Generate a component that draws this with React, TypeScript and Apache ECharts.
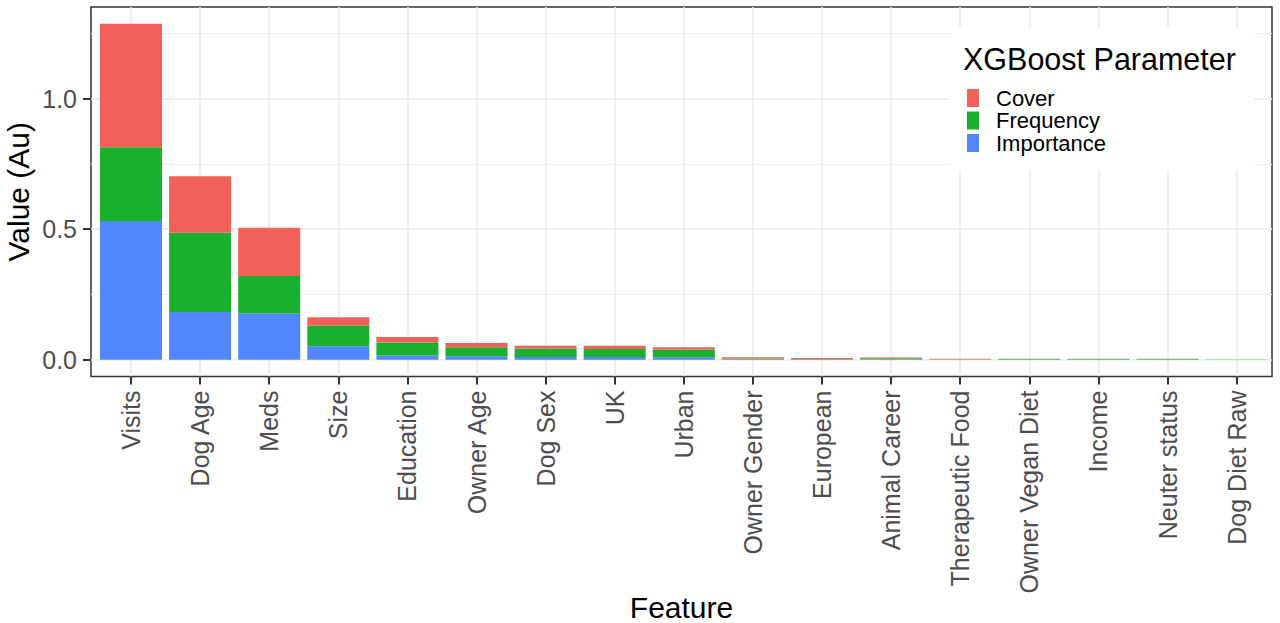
import React, { useEffect, useRef } from "react";
import * as echarts from "echarts";

// Features, in plot order
const features = [
  "Visits",
  "Dog Age",
  "Meds",
  "Size",
  "Education",
  "Owner Age",
  "Dog Sex",
  "UK",
  "Urban",
  "Owner Gender",
  "European",
  "Animal Career",
  "Therapeutic Food",
  "Owner Vegan Diet",
  "Income",
  "Neuter status",
  "Dog Diet Raw",
];

// stacked from bottom: Importance, Frequency, Cover
const importance = [0.531, 0.183, 0.177, 0.052, 0.016, 0.013, 0.01, 0.01, 0.009, 0.001, 0.001, 0.001, 0.0005, 0.0005, 0.0005, 0.0005, 0.0002];
const frequency = [0.283, 0.303, 0.144, 0.079, 0.05, 0.035, 0.033, 0.031, 0.03, 0.003, 0.002, 0.005, 0.001, 0.002, 0.002, 0.002, 0.0005];
const cover = [0.473, 0.217, 0.185, 0.032, 0.021, 0.016, 0.01, 0.012, 0.009, 0.005, 0.004, 0.002, 0.002, 0.001, 0.001, 0.001, 0.0003];

const majorTicks = [0, 0.5, 1.0];
const minorTicks = [0.25, 0.75, 1.25];

const FONT = "'Liberation Sans', Arial, Helvetica, sans-serif";
const COLORS = { cover: "#F2605A", frequency: "#1BAF2E", importance: "#5086FE" };

// ggplot-like expanded range (5%)
const Y_MAX_DATA = 1.287;
const Y_MIN = -0.05 * Y_MAX_DATA;
const Y_MAX = Y_MAX_DATA * 1.05;

// panel and bar band layout (px)
const PANEL = { left: 91, right: 8, top: 7, bottom: 246.5 };
const BAND = 69.1;
const FIRST_CENTER = 131;
const BAR_LEFT = FIRST_CENTER - BAND / 2;
const BAR_RIGHT = 1280 - (BAR_LEFT + BAND * features.length);
const X_MIN = -(FIRST_CENTER - PANEL.left) / BAND;
const X_MAX = X_MIN + (1280 - PANEL.left - PANEL.right) / BAND;

const App = () => {
  const chartRef = useRef<HTMLDivElement>(null);

  useEffect(() => {
    document.body.style.margin = "0";
    const chart = echarts.init(chartRef.current, null, { renderer: "svg" });
    const xIdx = features.map((_, i) => i);

    const option = {
      animation: false,
      backgroundColor: "#ffffff",
      textStyle: { fontFamily: FONT },
      grid: [
        {
          ...PANEL,
          outerBoundsMode: "none",
          containLabel: false,
          show: true,
          borderColor: "#333333",
          borderWidth: 1.5,
          backgroundColor: "transparent",
        },
        {
          left: BAR_LEFT,
          right: BAR_RIGHT,
          top: PANEL.top,
          bottom: PANEL.bottom,
          outerBoundsMode: "none",
          containLabel: false,
        },
      ],
      title: {
        text: "XGBoost Parameter",
        left: 963,
        top: 43,
        padding: 0,
        textStyle: { fontFamily: FONT, fontSize: 30.5, fontWeight: "normal", color: "#000000" },
      },
      legend: {
        data: ["Cover", "Frequency", "Importance"],
        orient: "vertical",
        left: 967,
        top: 87,
        padding: 0,
        itemWidth: 12,
        itemHeight: 18,
        itemGap: 0.5,
        icon: "rect",
        textStyle: { fontFamily: FONT, fontSize: 22, lineHeight: 22, color: "#000000", padding: [0, 0, 0, 12] },
      },
      graphic: [
        {
          type: "rect",
          z: 3,
          shape: { x: 950, y: 27, width: 304, height: 143 },
          style: { fill: "#ffffff" },
        },
      ],
      xAxis: [
        {
          gridIndex: 0,
          type: "value",
          min: X_MIN,
          max: X_MAX,
          name: "Feature",
          nameLocation: "middle",
          nameGap: 216,
          nameMoveOverlap: false,
          nameTextStyle: { fontFamily: FONT, fontSize: 30, color: "#000000" },
          axisLine: { show: false, onZero: false },
          axisTick: { show: true, customValues: xIdx, length: 8, lineStyle: { color: "#333333", width: 2 } },
          axisLabel: {
            customValues: xIdx,
            rotate: 90,
            margin: 14,
            fontFamily: FONT,
            fontSize: 25,
            color: "#4D4D4D",
            formatter: (v: number) => features[Math.round(v)],
          },
          splitLine: { show: true, lineStyle: { color: "#EBEBEB", width: 1.6 } },
        },
        {
          gridIndex: 1,
          type: "category",
          data: features,
          show: false,
        },
      ],
      yAxis: [
        {
          gridIndex: 0,
          type: "value",
          position: "left",
          min: Y_MIN,
          max: Y_MAX,
          name: "Value (Au)",
          nameLocation: "middle",
          nameGap: 58,
          nameMoveOverlap: false,
          nameTextStyle: { fontFamily: FONT, fontSize: 30, color: "#000000" },
          axisLine: { show: false, onZero: false },
          axisTick: { show: true, customValues: majorTicks, length: 8, lineStyle: { color: "#333333", width: 2 } },
          axisLabel: {
            customValues: majorTicks,
            margin: 14,
            fontFamily: FONT,
            fontSize: 25,
            color: "#4D4D4D",
            formatter: (v: number) => v.toFixed(1),
          },
          splitLine: { show: true, lineStyle: { color: "#EBEBEB", width: 1.6 } },
        },
        {
          gridIndex: 0,
          type: "value",
          min: Y_MIN,
          max: Y_MAX,
          axisLine: { show: false, onZero: false },
          axisTick: { show: false, customValues: minorTicks },
          axisLabel: { show: false, customValues: minorTicks },
          splitLine: { show: true, lineStyle: { color: "#F0F0F0", width: 1 } },
        },
        {
          gridIndex: 1,
          type: "value",
          min: Y_MIN,
          max: Y_MAX,
          show: false,
          splitLine: { show: false },
        },
      ],
      series: [
        {
          name: "Importance",
          type: "bar",
          stack: "total",
          xAxisIndex: 1,
          yAxisIndex: 2,
          barWidth: 62,
          itemStyle: { color: COLORS.importance },
          data: importance,
        },
        {
          name: "Frequency",
          type: "bar",
          stack: "total",
          xAxisIndex: 1,
          yAxisIndex: 2,
          barWidth: 62,
          itemStyle: { color: COLORS.frequency },
          data: frequency,
        },
        {
          name: "Cover",
          type: "bar",
          stack: "total",
          xAxisIndex: 1,
          yAxisIndex: 2,
          barWidth: 62,
          itemStyle: { color: COLORS.cover },
          data: cover,
        },
      ],
    };

    chart.setOption(option);
    return () => chart.dispose();
  }, []);

  return <div ref={chartRef} style={{ width: "1280px", height: "623px" }} />;
};

export default App;
